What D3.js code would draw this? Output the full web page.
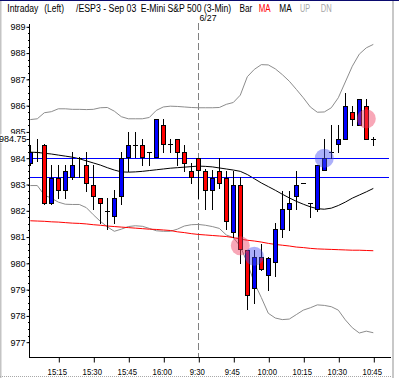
<!DOCTYPE html>
<html><head><meta charset="utf-8">
<script src="https://cdn.jsdelivr.net/npm/d3@7/dist/d3.min.js"></script>
<style>
html,body{margin:0;padding:0;background:#fff;}
svg{display:block;font-family:"Liberation Sans",Arial,sans-serif;}
</style></head>
<body><svg id="c" width="399" height="378"></svg>
<script>
// ---------- DATA ----------
const times = ["15:03","15:06","15:09","15:12","15:15","15:18","15:21","15:24","15:27","15:30",
  "15:33","15:36","15:39","15:42","15:45","15:48","15:51","15:54","15:57","16:00",
  "16:03","16:06","16:09","16:12","9:30","9:33","9:36","9:39","9:42","9:45",
  "9:48","9:51","9:54","9:57","10:00","10:03","10:06","10:09","10:12","10:15",
  "10:18","10:21","10:24","10:27","10:30","10:33","10:36","10:39","10:42","10:45"];
const open  = [983.80,984.25,984.50,982.30,983.25,982.78,983.28,984.00,983.75,983.00,
  982.50,982.00,981.80,982.55,984.05,984.50,984.50,984.25,984.05,985.25,
  984.55,984.75,984.25,983.50,984.00,983.50,982.80,983.50,983.25,981.20,
  983.00,980.50,979.05,980.25,979.55,980.05,981.30,982.05,982.55,983.05,
  982.30,982.05,983.55,984.25,984.55,984.75,985.75,985.25,986.00,984.75];
const high  = [984.50,984.75,984.55,983.75,983.75,983.75,984.25,984.05,984.25,983.75,
  982.50,982.50,982.80,984.25,985.00,985.00,984.75,984.25,985.50,985.50,
  984.75,984.75,984.50,983.80,984.00,983.60,983.55,984.00,983.50,983.50,
  983.30,980.50,980.50,980.75,980.25,981.55,982.75,982.75,983.50,983.05,
  982.30,983.75,984.75,985.25,985.25,986.50,986.00,986.25,986.25,984.80];
const low   = [983.75,983.90,982.25,982.25,982.50,982.50,983.20,983.30,982.75,982.05,
  981.55,981.30,981.55,982.25,983.50,984.05,983.75,983.75,984.05,984.25,
  984.25,983.75,983.50,983.05,982.50,982.05,982.05,982.85,981.30,981.00,
  980.00,978.25,978.50,979.75,979.00,979.50,981.00,981.25,982.05,983.05,
  981.75,982.00,983.55,984.00,984.25,984.75,985.25,985.25,984.75,984.50];
const close = [984.22,984.25,982.30,983.25,982.78,983.50,983.75,984.00,983.05,982.55,
  982.30,982.00,982.50,984.00,984.50,984.50,984.05,984.25,985.50,984.55,
  984.55,984.25,983.80,983.30,983.55,982.80,983.25,983.05,981.60,983.00,
  980.55,978.80,980.25,979.80,980.20,981.30,982.05,982.30,983.00,983.05,
  982.30,983.75,984.00,984.25,984.75,986.00,985.50,986.25,984.75,984.75];
const upperBand = [985.47,985.50,985.73,985.77,985.88,985.88,985.86,985.86,985.85,985.86,
  985.92,985.93,985.79,985.58,985.50,985.50,985.50,985.55,985.82,985.95,
  985.98,985.97,985.95,985.93,985.92,985.92,985.92,985.93,986.05,986.12,
  986.40,987.10,987.38,987.56,987.55,987.40,987.18,986.93,986.62,986.30,
  985.95,985.75,985.76,985.92,986.30,986.90,987.50,987.96,988.20,988.33];
const lowerBand = [982.96,982.96,982.60,982.48,982.33,982.25,982.24,982.24,982.12,981.85,
  981.60,981.39,981.22,981.30,981.40,981.43,981.41,981.33,981.24,981.22,
  981.22,981.30,981.42,981.47,981.48,981.45,981.40,981.33,981.08,980.98,
  980.65,980.02,979.26,978.70,978.10,977.92,977.86,977.88,978.05,978.22,
  978.31,978.42,978.40,978.35,978.22,977.85,977.55,977.35,977.42,977.36];
const maBlack = [984.23,984.22,984.19,984.16,984.12,984.08,984.04,983.98,983.90,983.82,
  983.74,983.64,983.55,983.48,983.47,983.48,983.50,983.53,983.56,983.59,
  983.62,983.64,983.66,983.68,983.70,983.69,983.67,983.63,983.59,983.55,
  983.50,983.38,983.22,983.06,982.92,982.78,982.63,982.49,982.36,982.25,
  982.15,982.08,982.06,982.10,982.20,982.33,982.48,982.60,982.72,982.85];
const maRed = [981.62,981.61,981.60,981.58,981.57,981.55,981.53,981.52,981.50,981.47,
  981.45,981.42,981.40,981.38,981.36,981.34,981.32,981.30,981.29,981.27,
  981.25,981.20,981.17,981.13,981.10,981.08,981.06,981.04,981.02,980.98,
  980.92,980.88,980.85,980.81,980.76,980.72,980.69,980.66,980.62,980.60,
  980.57,980.55,980.54,980.53,980.52,980.51,980.50,980.50,980.49,980.48];
const levels = [984.00, 983.28];
const lastPrice = 984.75;
const yTicks = [977,978,979,980,981,982,983,984,985,986,987,988,989];
const xTickLabels = ["15:15","15:30","15:45","16:00","9:30","9:45","10:00","10:15","10:30","10:45"];
const sessionStart = "9:30";
const sessionDate = "6/27";
const sigTime  = ["9:48","9:54","10:24","10:42"];
const sigPrice = [980.67, 980.27, 984.00, 985.50];
const sigType  = ["sell","buy","buy","sell"];

// ---------- CHART ----------
const svg = d3.select("#c");
const x = d3.scalePoint().domain(times).range([30.3, 373.3]);
const y = d3.scaleLinear().domain([977, 989]).range([342.2, 26.8]);
const axX = 29, axY = 357, plotRight = 391;

// frame
svg.append("rect").attr("x",0).attr("y",0).attr("width",399).attr("height",1).attr("fill","#0a0a6e");
svg.append("rect").attr("x",0).attr("y",1).attr("width",1.5).attr("height",377).attr("fill","#c4c4c4");
svg.append("rect").attr("x",392).attr("y",1).attr("width",2).attr("height",377).attr("fill","#c8c8c8");
svg.append("line").attr("x1",0).attr("x2",392).attr("y1",376.5).attr("y2",376.5)
  .attr("stroke","#a8a8a8").attr("stroke-dasharray","1,1");

// header
const hdr = [["Intraday",7.3,31,"#000"],["(Left)",44.3,19.7,"#000"],["/ESP3 - Sep 03",76,60.3,"#000"],
  ["E-Mini S&P 500 (3-Min)",140.7,90.5,"#000"],["Bar",239.5,12.8,"#000"],["MA",258.7,12,"#ff0000"],
  ["MA",279.3,12.4,"#000"],["UP",300,10,"#a8a8a8"],["DN",320.7,11,"#a8a8a8"]];
svg.selectAll("text.h").data(hdr).join("text").attr("class","h")
  .attr("x",d=>d[1]).attr("y",12).attr("font-size",10).attr("fill",d=>d[3])
  .attr("textLength",d=>d[2]).attr("lengthAdjust","spacingAndGlyphs").text(d=>d[0]);
svg.append("text").attr("x",199.5).attr("y",21).attr("font-size",9.5)
  .attr("textLength",17).attr("lengthAdjust","spacingAndGlyphs").text(sessionDate);

// session divider
const sx = Math.round(x(sessionStart)) + 0.5;
svg.append("line").attr("x1",sx).attr("x2",sx).attr("y1",23).attr("y2",axY)
  .attr("stroke","#808080").attr("stroke-dasharray","7,3");

// clip
svg.append("clipPath").attr("id","pc").append("rect")
  .attr("x",axX+0.5).attr("y",20).attr("width",plotRight-axX).attr("height",axY-20);
const g = svg.append("g").attr("clip-path","url(#pc)");

// bands and MAs
const line = arr => d3.line().x((d,i)=>x(times[i])).y(d=>y(d))(arr);
g.append("path").attr("d",line(upperBand)).attr("fill","none").attr("stroke","#8c8c8c").attr("stroke-width",1);
g.append("path").attr("d",line(lowerBand)).attr("fill","none").attr("stroke","#8c8c8c").attr("stroke-width",1);
g.append("path").attr("d",line(maRed)).attr("fill","none").attr("stroke","#ff0000").attr("stroke-width",1);
g.append("path").attr("d",line(maBlack)).attr("fill","none").attr("stroke","#000").attr("stroke-width",1);

// horizontal levels
g.selectAll("line.lvl").data(levels).join("line").attr("class","lvl")
  .attr("x1",axX).attr("x2",389)
  .attr("y1",d=>Math.round(y(d))+0.5).attr("y2",d=>Math.round(y(d))+0.5)
  .attr("stroke","#0000ff").attr("stroke-width",1).attr("shape-rendering","crispEdges");

// candles
const bars = times.map((t,i)=>({t,o:open[i],h:high[i],l:low[i],c:close[i]}));
const cg = g.selectAll("g.bar").data(bars).join("g").attr("class","bar");
cg.append("line")
  .attr("x1",d=>Math.round(x(d.t))+0.5).attr("x2",d=>Math.round(x(d.t))+0.5)
  .attr("y1",d=>Math.round(y(d.h))).attr("y2",d=>Math.round(y(d.l))+1)
  .attr("stroke","#000").attr("stroke-width",1);
cg.filter(d=>Math.abs(d.o-d.c)>0.04).append("rect")
  .attr("x",d=>Math.round(x(d.t))-1.5).attr("width",4)
  .attr("y",d=>Math.round(y(Math.max(d.o,d.c)))+0.5)
  .attr("height",d=>Math.max(1,Math.round(y(Math.min(d.o,d.c)))-Math.round(y(Math.max(d.o,d.c)))))
  .attr("fill",d=>d.c>d.o?"#0000ff":"#ff0000").attr("stroke","#000").attr("stroke-width",1);
cg.filter(d=>Math.abs(d.o-d.c)<=0.04).append("line")
  .attr("x1",d=>Math.round(x(d.t))-2).attr("x2",d=>Math.round(x(d.t))+3)
  .attr("y1",d=>Math.round(y(d.c))+0.5).attr("y2",d=>Math.round(y(d.c))+0.5)
  .attr("stroke","#000").attr("stroke-width",1);

// signal circles
g.selectAll("circle.sig").data(sigTime.map((t,i)=>({t,p:sigPrice[i],k:sigType[i]}))).join("circle")
  .attr("class","sig").attr("cx",d=>x(d.t)).attr("cy",d=>y(d.p)).attr("r",9.5)
  .attr("fill",d=>d.k==="buy"?"rgba(70,80,245,0.45)":"rgba(240,60,95,0.45)");

// y axis
const ya = svg.append("g").attr("transform",`translate(${axX+0.5},0)`)
  .call(d3.axisLeft(y).tickValues(yTicks).tickFormat(d3.format("d")).tickSize(3).tickPadding(1));
ya.select(".domain").remove();
ya.selectAll("text").attr("font-size",9).attr("font-family","Liberation Sans, Arial").attr("fill","#000");
ya.selectAll("line").attr("stroke","#000");
const minor = d3.range(977, 989.001, 0.25);
svg.append("g").selectAll("line").data(minor).join("line")
  .attr("x1",axX-1).attr("x2",axX).attr("y1",d=>Math.round(y(d))+0.5).attr("y2",d=>Math.round(y(d))+0.5)
  .attr("stroke","#000");
svg.append("line").attr("x1",axX+0.5).attr("x2",axX+0.5).attr("y1",24).attr("y2",axY+1).attr("stroke","#000");
// last price label (boxed over the regular tick labels)
const lpY = y(lastPrice);
svg.append("rect").attr("x",0.5).attr("y",lpY-4.5).attr("width",26).attr("height",9).attr("fill","#fff");
svg.append("text").attr("x",26.5).attr("y",lpY+3).attr("text-anchor","end")
  .attr("font-size",9).text(lastPrice.toFixed(2));
svg.append("line").attr("x1",26.5).attr("x2",axX).attr("y1",Math.round(lpY)+0.5)
  .attr("y2",Math.round(lpY)+0.5).attr("stroke","#000");

// x axis
svg.append("line").attr("x1",axX).attr("x2",plotRight).attr("y1",axY+0.5).attr("y2",axY+0.5).attr("stroke","#000");
const xa = svg.append("g").attr("transform",`translate(0,${axY+0.5})`)
  .call(d3.axisBottom(x).tickValues(xTickLabels).tickSize(5).tickPadding(6));
xa.select(".domain").remove();
xa.selectAll("line").attr("stroke","#000").attr("transform","translate(0.5,0)");
xa.selectAll("text").attr("font-size",9).attr("font-family","Liberation Sans, Arial").attr("fill","#000")
  .attr("dx",-1.5)
  .each(function(){ const w=this.getComputedTextLength(); d3.select(this).attr("textLength",w*0.86).attr("lengthAdjust","spacingAndGlyphs"); });
</script></body></html>
